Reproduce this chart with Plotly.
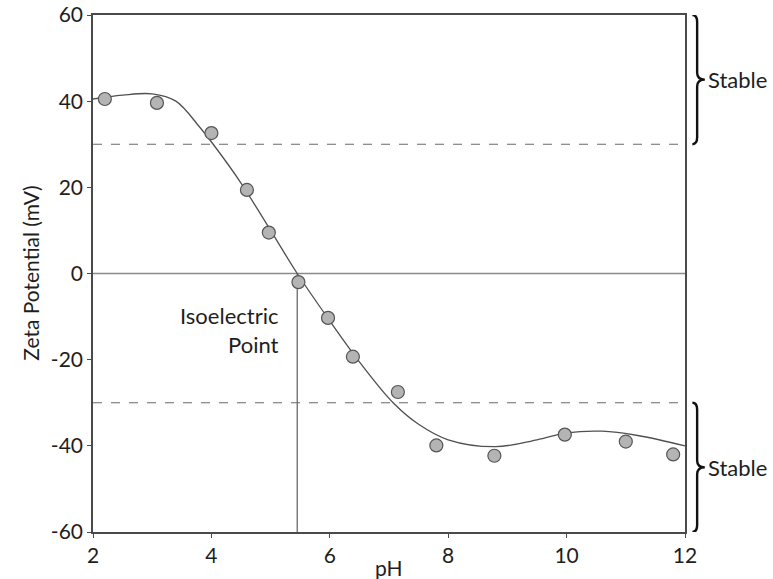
import plotly.graph_objects as go

# Measured zeta potential vs pH
ph = [2.2, 3.08, 4.0, 4.6, 4.97, 5.47, 5.97, 6.39, 7.15, 7.8, 8.78, 9.97, 11.0, 11.8]
zeta = [40.5, 39.6, 32.6, 19.4, 9.5, -2.0, -10.3, -19.3, -27.5, -39.9, -42.3, -37.4, -39.0, -42.0]

# Smooth trend line through the data
fit_ph = [2.0, 2.5, 3.0, 3.4, 3.8, 4.03, 4.5, 5.0, 5.45, 6.0, 6.5, 7.07, 7.5, 8.0, 8.8, 9.5, 10.0, 10.6, 11.2, 12.0]
fit_zeta = [40.5, 41.4, 41.7, 40.0, 34.0, 30.0, 21.0, 10.0, 0.0, -11.0, -20.5, -30.0, -35.0, -38.6, -40.2, -38.6, -37.0, -36.6, -37.6, -40.0]

isoelectric_ph = 5.45
stable_limit = 30
y_min, y_max = -60, 60
x_min, x_max = 2, 12
y_ticks = [-60, -40, -20, 0, 20, 40, 60]
y_labels = ["-60", "-40", "-20", "0", "20", "40", "60"]
x_ticks = [2, 4, 6, 8, 10, 12]

FONT = "Lato"
TEXT = "#1e1e1e"
AXIS_COLOR = "#4a4a4a"

fig = go.Figure()

fig.add_trace(go.Scatter(
    x=fit_ph, y=fit_zeta, mode="lines",
    line=dict(color="#505050", width=1.3, shape="spline", smoothing=1.0),
    hoverinfo="skip", showlegend=False,
))
fig.add_trace(go.Scatter(
    x=ph, y=zeta, mode="markers",
    marker=dict(size=13, color="#b4b4b4", line=dict(color="#555555", width=1.2)),
    showlegend=False,
))

# Stability thresholds
for lvl in (stable_limit, -stable_limit):
    fig.add_shape(type="line", xref="x", yref="y", x0=x_min, x1=x_max, y0=lvl, y1=lvl,
                  line=dict(color="#6a6a6a", width=1.2, dash="dash"), layer="below")
# Zero line and isoelectric point marker
fig.add_shape(type="line", xref="x", yref="y", x0=x_min, x1=x_max, y0=0, y1=0,
              line=dict(color="#8a8a8a", width=1.5), layer="below")
fig.add_shape(type="line", xref="x", yref="y", x0=isoelectric_ph, x1=isoelectric_ph,
              y0=y_min, y1=0, line=dict(color="#6a6a6a", width=1.3), layer="below")

fig.add_annotation(x=isoelectric_ph - 0.28, y=-13, xref="x", yref="y",
                   text="Isoelectric<br>Point", showarrow=False, xanchor="right",
                   yanchor="middle", align="right",
                   font=dict(family=FONT, size=22, color=TEXT))


def brace(y_top, y_bot):
    """Right-pointing curly brace in paper-x / data-y coordinates."""
    x0, hook, tip = 1.0205, 0.008, 1.0335
    mid = (y_top + y_bot) / 2
    c = 1.6
    return (f"M {x0 - hook},{y_top} Q {x0},{y_top} {x0},{y_top - c} "
            f"L {x0},{mid + c} Q {x0},{mid} {tip},{mid} "
            f"Q {x0},{mid} {x0},{mid - c} "
            f"L {x0},{y_bot + c} Q {x0},{y_bot} {x0 - hook},{y_bot}")


for top, bot in ((y_max, stable_limit), (-stable_limit, y_min)):
    fig.add_shape(type="path", xref="paper", yref="y", path=brace(top, bot),
                  line=dict(color="#111111", width=2.4))
    fig.add_annotation(x=1.035, y=(top + bot) / 2, xref="paper", yref="y",
                       text="Stable", showarrow=False, xanchor="left", yanchor="middle",
                       font=dict(family=FONT, size=22, color=TEXT))

# Axis titles
fig.add_annotation(x=0.5, y=-0.068, xref="paper", yref="paper", text="pH",
                   showarrow=False, xanchor="center", yanchor="middle",
                   font=dict(family=FONT, size=21, color=TEXT))
fig.add_annotation(x=-0.106, y=0.5, xref="paper", yref="paper", text="Zeta Potential (mV)",
                   showarrow=False, xanchor="center", yanchor="middle", textangle=-90,
                   font=dict(family=FONT, size=21, color=TEXT))

axis_common = dict(
    showline=True, linecolor=AXIS_COLOR, linewidth=1.6, mirror=True,
    showgrid=False, zeroline=False, ticks="outside", ticklen=4,
    tickcolor=AXIS_COLOR, tickwidth=1.2, automargin=False,
    tickfont=dict(family=FONT, size=21, color=TEXT),
)

fig.update_layout(
    width=773, height=579,
    margin=dict(l=93, r=88, t=15, b=47, autoexpand=False),
    paper_bgcolor="white", plot_bgcolor="white",
    xaxis=dict(range=[x_min, x_max], tickvals=x_ticks, **axis_common),
    yaxis=dict(range=[y_min, y_max], tickvals=y_ticks, ticktext=y_labels, **axis_common),
)

fig.write_html("out.html")
